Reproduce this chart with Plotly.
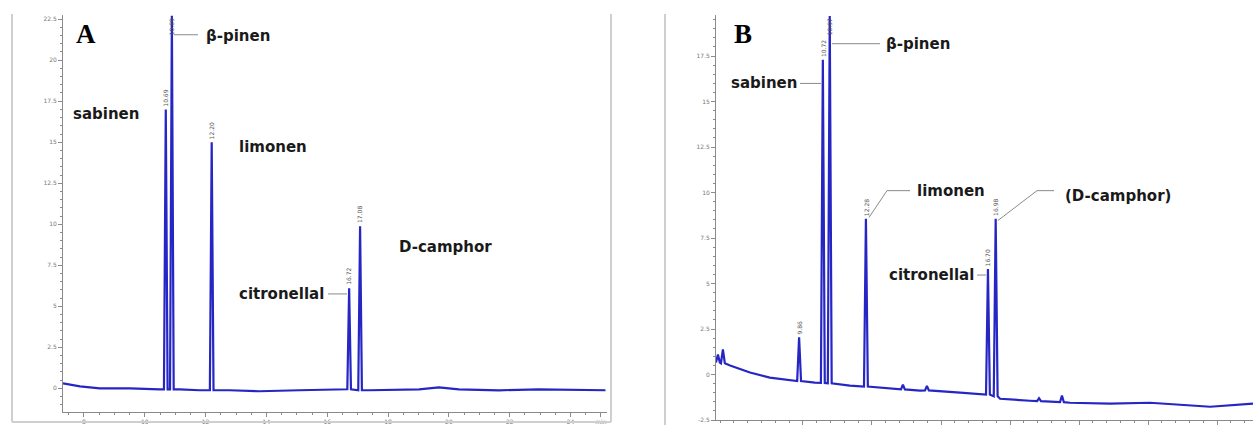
import plotly.graph_objects as go
import numpy as np

W, H = 1253, 428

# ---------------- Panel A data ----------------
a_base_t = [7.31, 7.87, 8.52, 9.51, 10.49, 11.15, 11.80, 12.79, 13.77, 15.08, 16.39, 17.38,
            19.02, 19.67, 20.33, 21.64, 22.95, 25.15]
a_base_v = [0.30, 0.12, 0.00, 0.00, -0.06, -0.06, -0.12, -0.12, -0.18, -0.12, -0.06, -0.12,
            -0.06, 0.06, -0.06, -0.12, -0.06, -0.12]
a_peak_names = ["sabinen", "β-pinen", "limonen", "citronellal", "D-camphor"]
a_peak_t = [10.69, 10.89, 12.20, 16.72, 17.08]
a_peak_h = [17.0, 22.7, 15.0, 6.1, 9.87]
a_peak_base = [-0.06, -0.06, -0.12, -0.06, -0.12]

a_xtick_vals = [8, 10, 12, 14, 16, 18, 20, 22, 24, 25]
a_xtick_text = ["8", "10", "12", "14", "16", "18", "20", "22", "24", "min"]
a_ytick_vals = [0, 2.5, 5, 7.5, 10, 12.5, 15, 17.5, 20, 22.5]
a_ytick_text = ["0", "2.5", "5", "7.5", "10", "12.5", "15", "17.5", "20", "22.5"]

# ---------------- Panel B data ----------------
b_base_t = [6.85, 7.36, 8.08, 8.80, 9.53, 10.43, 11.70, 12.79, 14.24, 15.69, 16.59, 17.14,
            18.22, 19.67, 21.12, 22.57, 23.66, 24.75, 26.30]
b_base_v = [0.66, 0.50, 0.11, -0.17, -0.33, -0.44, -0.61, -0.72, -0.88, -0.99, -1.10, -1.33,
            -1.44, -1.55, -1.60, -1.55, -1.66, -1.77, -1.60]
b_peak_names = ["", "", "", "sabinen", "β-pinen", "limonen", "", "", "citronellal", "D-camphor", "", ""]
b_peak_t = [6.92, 7.10, 9.86, 10.72, 10.97, 12.28, 13.62, 14.49, 16.70, 16.98, 18.55, 19.38]
b_peak_h = [1.10, 1.38, 2.04, 17.3, 19.7, 8.56, -0.55, -0.62, 5.8, 8.56, -1.30, -1.16]
b_peak_base = [0.66, 0.62, -0.36, -0.46, -0.48, -0.66, -0.82, -0.87, -1.10, -1.20, -1.46, -1.52]
b_peak_labels = ["", "", "9.86", "10.72", "10.97", "12.28", "", "", "16.70", "16.98", "", ""]

b_xtick_vals = [10, 12.5, 15, 17.5, 20, 22.5, 25]
b_ytick_vals = [-2.5, 0, 2.5, 5, 7.5, 10, 12.5, 15, 17.5]
b_ytick_text = ["-2.5", "0", "2.5", "5", "7.5", "10", "12.5", "15", "17.5"]


def build(bt, bv, pt, ph, pb, hw):
    pts = list(zip(bt, bv))
    for t, h, b in zip(pt, ph, pb):
        pts += [(t - hw, b), (t, h), (t + hw, b)]
    pts.sort(key=lambda p: p[0])
    return [p[0] for p in pts], [p[1] for p in pts]


ax_t, ax_v = build(a_base_t, a_base_v, a_peak_t, a_peak_h, a_peak_base, 0.06)
bx_t, bx_v = build(b_base_t, b_base_v, b_peak_t, b_peak_h, b_peak_base, 0.07)

LINE = "#2626c4"
fig = go.Figure()
fig.add_trace(go.Scatter(x=ax_t, y=ax_v, mode="lines", line=dict(color=LINE, width=2.2),
                         xaxis="x", yaxis="y", showlegend=False, hoverinfo="skip"))
fig.add_trace(go.Scatter(x=bx_t, y=bx_v, mode="lines", line=dict(color=LINE, width=2.2),
                         xaxis="x2", yaxis="y2", showlegend=False, hoverinfo="skip"))


def px(x):
    return x / W


def py(y):
    return 1 - y / H


AXCOL = "#8a8a8a"
tickfont = dict(family="DejaVu Sans", size=6, color="#777777")

common_axis = dict(showgrid=False, zeroline=False, showline=True, linecolor=AXCOL, linewidth=1,
                   ticks="outside", ticklen=4, tickcolor=AXCOL, tickfont=tickfont)

A_YMAX = 22.76
B_YMAX = 19.76
fig.update_layout(
    width=W, height=H, margin=dict(l=0, r=0, t=0, b=0),
    paper_bgcolor="white", plot_bgcolor="white",
    xaxis=dict(domain=[px(63), px(607)], range=[7.31, 25.2], anchor="y",
               tickvals=a_xtick_vals, ticktext=a_xtick_text,
               minor=dict(dtick=0.5, ticks="outside", ticklen=2, tickcolor=AXCOL), **common_axis),
    yaxis=dict(domain=[py(415), py(15)], range=[-1.45, A_YMAX], anchor="x",
               tickvals=a_ytick_vals, ticktext=a_ytick_text,
               minor=dict(dtick=0.5, ticks="outside", ticklen=2, tickcolor=AXCOL), **common_axis),
    xaxis2=dict(domain=[px(716), 1.0], range=[6.85, 26.3], anchor="y2",
                tickvals=b_xtick_vals, showticklabels=False,
                minor=dict(dtick=0.5, ticks="outside", ticklen=2, tickcolor=AXCOL), **common_axis),
    yaxis2=dict(domain=[py(423), py(15)], range=[-2.5, B_YMAX], anchor="x2",
                tickvals=b_ytick_vals, ticktext=b_ytick_text,
                minor=dict(dtick=0.5, ticks="outside", ticklen=2, tickcolor=AXCOL), **common_axis),
)

shapes = []
FRAME = "#cfcfcf"
# panel frames
shapes.append(dict(type="line", xref="paper", yref="paper", x0=px(12), x1=px(12), y0=py(14), y1=py(425),
                   line=dict(color=FRAME, width=2)))
shapes.append(dict(type="line", xref="paper", yref="paper", x0=px(12), x1=px(611), y0=py(425), y1=py(425),
                   line=dict(color=FRAME, width=2)))
shapes.append(dict(type="line", xref="paper", yref="paper", x0=px(611), x1=px(611), y0=py(14), y1=py(425),
                   line=dict(color=FRAME, width=2)))
shapes.append(dict(type="line", xref="paper", yref="paper", x0=px(665), x1=px(665), y0=py(14), y1=py(428),
                   line=dict(color=FRAME, width=2)))

LEAD = "#8a8a8a"


def seg(x0, y0, x1, y1):
    shapes.append(dict(type="line", xref="paper", yref="paper", x0=px(x0), x1=px(x1), y0=py(y0), y1=py(y1),
                       line=dict(color=LEAD, width=1)))


# leader lines panel A
seg(174, 35, 198, 35)
seg(328, 296, 347, 296)
# leader lines panel B
seg(800, 84, 821, 84)
seg(832, 44, 880, 44)
seg(869, 219, 887, 192)
seg(887, 192, 910, 192)
seg(977, 277, 986, 277)
seg(998, 222, 1037, 192)
seg(1037, 192, 1054, 192)
fig.update_layout(shapes=shapes)

ann = []
LBL = dict(family="DejaVu Sans", size=15, color="#1a1a1a", weight="bold")


def text(x, y, s, font=LBL, xanchor="center"):
    ann.append(dict(x=px(x), y=py(y), xref="paper", yref="paper", text=s, showarrow=False,
                    font=font, xanchor=xanchor, yanchor="middle"))


PANEL = dict(family="Liberation Serif", size=27, color="black", weight="bold")
text(86, 34, "A", PANEL)
text(743, 34, "B", PANEL)

# panel A compound labels
text(106, 115, "sabinen")
text(238, 36, "β-pinen")
text(273, 148, "limonen")
text(281, 296, "citronellal")
text(445, 249, "D-camphor")
# panel B compound labels
text(764, 84, "sabinen")
text(918, 44, "β-pinen")
text(951, 192, "limonen")
text(932, 277, "citronellal")
text(1118, 197, "(D-camphor)")

fig.update_layout(annotations=ann)

# retention-time labels on peak apexes (placed inside the plot when the apex touches the top)
rt_font = dict(family="DejaVu Sans", size=6, color="#555555")
for t, h in zip(a_peak_t, a_peak_h):
    top = h > A_YMAX - 2
    fig.add_annotation(x=t, y=h, xref="x", yref="y", text=f"{t:.2f}", showarrow=False,
                       textangle=-90, font=rt_font,
                       yanchor="top" if top else "bottom", yshift=0 if top else 1)
for t, h, s in zip(b_peak_t, b_peak_h, b_peak_labels):
    if s:
        top = h > B_YMAX - 2
        fig.add_annotation(x=t, y=h, xref="x2", yref="y2", text=s, showarrow=False,
                           textangle=-90, font=rt_font,
                           yanchor="top" if top else "bottom", yshift=0 if top else 1)

fig.write_html("out.html", config={"displayModeBar": False},
               post_script="document.body.style.margin='0';document.body.style.overflow='hidden';")
